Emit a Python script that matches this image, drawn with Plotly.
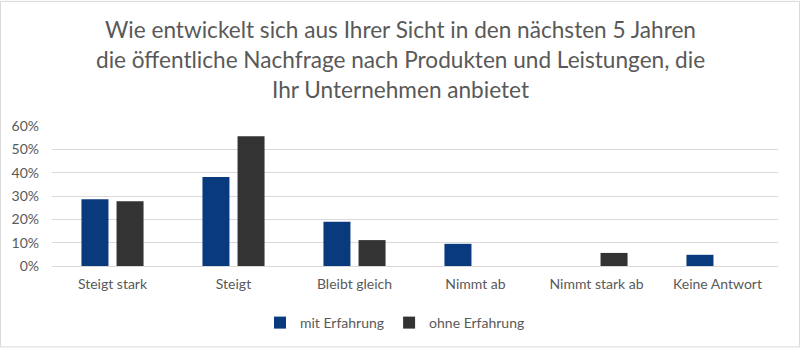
import plotly.graph_objects as go

categories = ["Steigt stark", "Steigt", "Bleibt gleich", "Nimmt ab", "Nimmt stark ab", "Keine Antwort"]
mit_erfahrung = [28.6, 38.1, 19.0, 9.5, None, 4.8]
ohne_erfahrung = [27.8, 55.6, 11.1, None, 5.6, None]
y_ticks = [0, 10, 20, 30, 40, 50, 60]
y_tick_labels = ["0%", "10%", "20%", "30%", "40%", "50%", "60%"]
title_lines = [
    "Wie entwickelt sich aus Ihrer Sicht in den nächsten 5 Jahren",
    "die öffentliche Nachfrage nach Produkten und Leistungen, die",
    "Ihr Unternehmen anbietet",
]

W, H = 800, 349
L, R, T, B = 52, 22, 126, 82
pw, ph = W - L - R, H - T - B
FONT = "Lato"
GREY = "#595959"
xc = (400 - L) / pw

fig = go.Figure()
fig.add_trace(go.Bar(x=categories, y=mit_erfahrung, name="mit Erfahrung",
                     marker=dict(color="#0a3a7e", line=dict(width=0))))
fig.add_trace(go.Bar(x=categories, y=ohne_erfahrung, name="ohne Erfahrung",
                     marker=dict(color="#333333", line=dict(width=0))))

annotations = []
for i, line in enumerate(title_lines):
    ycen = 29 + 30 * i
    annotations.append(dict(
        text=line, x=xc, xref="paper", xanchor="center",
        y=(H - B - ycen) / ph, yref="paper", yanchor="middle",
        showarrow=False, font=dict(family=FONT, size=22.6, color=GREY)))

fig.update_layout(
    width=W, height=H,
    margin=dict(l=L, r=R, t=T, b=B, pad=0),
    paper_bgcolor="white", plot_bgcolor="white",
    barmode="group", bargap=0.42, bargroupgap=0.23,
    font=dict(family=FONT, size=14, color=GREY),
    showlegend=True,
    legend=dict(orientation="h", x=(395 - L) / pw, xanchor="center",
                y=(H - B - 323) / ph, yanchor="middle",
                font=dict(family=FONT, size=14, color=GREY),
                itemwidth=30, traceorder="normal"),
    annotations=annotations,
    xaxis=dict(showgrid=False, showline=False, ticks="", tickfont=dict(size=14, color=GREY),
               ticklabelstandoff=8),
    yaxis=dict(range=[0, 60], tickvals=y_ticks, ticktext=y_tick_labels,
               showgrid=True, gridcolor="#d9d9d9", gridwidth=1, zeroline=True,
               zerolinecolor="#d9d9d9", zerolinewidth=1, showline=False,
               tickfont=dict(size=14, color=GREY), ticks="", ticklabelstandoff=12),
    shapes=[dict(type="rect", xref="paper", yref="paper",
                 x0=(0.5 - L) / pw, x1=(W - 0.5 - L) / pw,
                 y0=(H - B - (H - 0.5)) / ph, y1=(H - B - 0.5) / ph,
                 line=dict(color="#d9d9d9", width=1), fillcolor="rgba(0,0,0,0)",
                 layer="below")],
)

fig.write_html("out.html")
